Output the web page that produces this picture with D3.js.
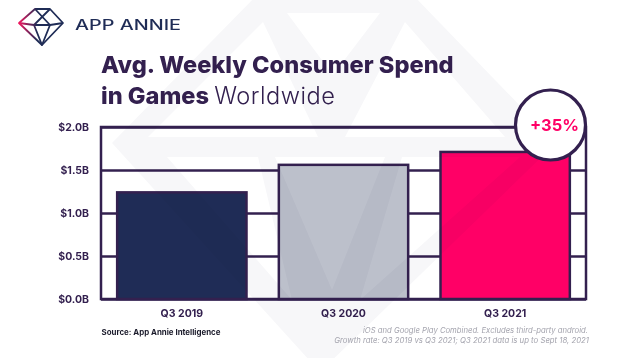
<!DOCTYPE html>
<html>
<head>
<meta charset="utf-8">
<script src="https://cdn.jsdelivr.net/npm/d3@7"></script>
<style>
  html, body { margin: 0; padding: 0; background: #fff; }
  svg { display: block; }
  text { font-family: Inter, "Open Sans", sans-serif; }
</style>
</head>
<body>
<svg id="chart"></svg>
<script>
const categories = ["Q3 2019", "Q3 2020", "Q3 2021"];
const spend = [1.24, 1.56, 1.71];
const barColors = ["#1f2c56", "#bcc0cb", "#ff0066"];
const tickValues = [0, 0.5, 1, 1.5, 2];

const width = 627;
const height = 358;
const ink = "#33204f";

const svg = d3.select("#chart").attr("width", width).attr("height", height);
svg.append("rect").attr("width", width).attr("height", height).attr("fill", "#fff");

const grad = svg.append("defs").append("linearGradient").attr("id", "logo-grad")
  .attr("gradientUnits", "userSpaceOnUse").attr("x1", 19).attr("x2", 37).attr("y1", 23).attr("y2", 23);
grad.append("stop").attr("offset", 0).attr("stop-color", "#f0185f");
grad.append("stop").attr("offset", 1).attr("stop-color", "#1f2c56");

// logo
const logo = svg.append("g").attr("fill", "none").attr("stroke", "url(#logo-grad)")
  .attr("stroke-width", 1.8).attr("stroke-linejoin", "round");
logo.append("path").attr("d", "M35,9 L50,9 L63,23 L42,45 L19,23 Z");
logo.append("path").attr("d", "M19,23 L34,25 L42,45 L50,25 L63,23 M34,25 L50,9 M35,9 L50,25 L34,25");
svg.append("text").attr("x", 75).attr("y", 29.5).attr("font-size", 14).attr("font-weight", 500)
  .attr("textLength", 106).attr("lengthAdjust", "spacingAndGlyphs").attr("fill", "#1f2c56").text("APP ANNIE");

// title
svg.append("text").attr("x", 101).attr("y", 73).attr("font-size", 23.6).attr("font-weight", 800)
  .attr("fill", ink).text("Avg. Weekly Consumer Spend");
const line2 = svg.append("text").attr("x", 101).attr("y", 104).attr("font-size", 23.6).attr("fill", ink);
line2.append("tspan").attr("font-weight", 800).text("in Games ");
line2.append("tspan").attr("font-weight", 300).attr("letter-spacing", 0.5).text("Worldwide");

const x = d3.scaleBand().domain(categories).range([101, 586]).paddingInner(0.2).paddingOuter(0.1);
const y = d3.scaleLinear().domain([0, 2]).range([299, 127]);
const color = d3.scaleOrdinal().domain(categories).range(barColors);

// grid + frame
const yAxis = svg.append("g").attr("transform", "translate(101,0)")
  .call(d3.axisLeft(y).tickValues(tickValues).tickSize(-485).tickPadding(12).tickFormat((d) => "$" + d.toFixed(1) + "B"));
yAxis.select(".domain").remove();
yAxis.selectAll("line").attr("stroke", ink).attr("stroke-width", 2.5);
yAxis.selectAll("text").attr("font-size", 10.5).attr("font-weight", 700).attr("fill", ink);

svg.append("rect").attr("x", 101).attr("y", y(2)).attr("width", 485).attr("height", y(0) - y(2))
  .attr("fill", "none").attr("stroke", ink).attr("stroke-width", 2.5);

// bars
svg.selectAll("rect.bar")
  .data(spend)
  .join("rect")
  .attr("class", "bar")
  .attr("x", (d, i) => x(categories[i]))
  .attr("y", (d) => y(d))
  .attr("width", x.bandwidth())
  .attr("height", (d) => y(0) - y(d))
  .attr("fill", (d, i) => color(categories[i]))
  .attr("stroke", ink)
  .attr("stroke-width", 2.5);

const xAxis = svg.append("g").attr("transform", "translate(0,299)")
  .call(d3.axisBottom(x).tickSize(0).tickPadding(11));
xAxis.select(".domain").remove();
xAxis.selectAll("text").attr("font-size", 10.5).attr("font-weight", 700).attr("fill", ink);

// pale gem watermark, multiplied over the chart so it tints the bars too
const water = svg.append("g").style("mix-blend-mode", "multiply");
water.append("path").attr("fill", "#f7f7f9")
  .attr("d", "M257,-5 L413,-5 L556,143 L320,372 L112,143 Z");
water.append("path").attr("fill", "#fff")
  .attr("d", "M263,22 L148,137 L318,137 Z M405,22 L345,137 L505,137 Z M287,13 L380,13 L333,75 Z");
water.append("path").attr("fill", "#fff")
  .attr("d", "M167,157 L258,157 L292,300 Z M275,157 L385,157 L332,290 Z M402,157 L520,157 L360,300 Z");

// growth badge
svg.append("circle").attr("cx", 550.5).attr("cy", 125).attr("r", 35)
  .attr("fill", "#fff").attr("stroke", ink).attr("stroke-width", 3.2);
svg.append("text").attr("x", 554.5).attr("y", 131).attr("text-anchor", "middle").attr("font-size", 16.5)
  .attr("font-weight", 700).attr("fill", "#ff0066").text("+35%");

// notes
svg.append("text").attr("x", 101.5).attr("y", 335).attr("font-size", 7.9).attr("font-weight", 700)
  .attr("fill", "#1a1a2a").text("Source: App Annie Intelligence");
svg.append("text").attr("x", 588).attr("y", 333).attr("text-anchor", "end").attr("font-size", 7.7)
  .attr("font-style", "italic").attr("fill", "#a3a3ad").text("iOS and Google Play Combined. Excludes third-party android.");
svg.append("text").attr("x", 589).attr("y", 343).attr("text-anchor", "end").attr("font-size", 7.75)
  .attr("font-style", "italic").attr("fill", "#a3a3ad").text("Growth rate: Q3 2019 vs Q3 2021; Q3 2021 data is up to Sept 18, 2021");
</script>
</body>
</html>
